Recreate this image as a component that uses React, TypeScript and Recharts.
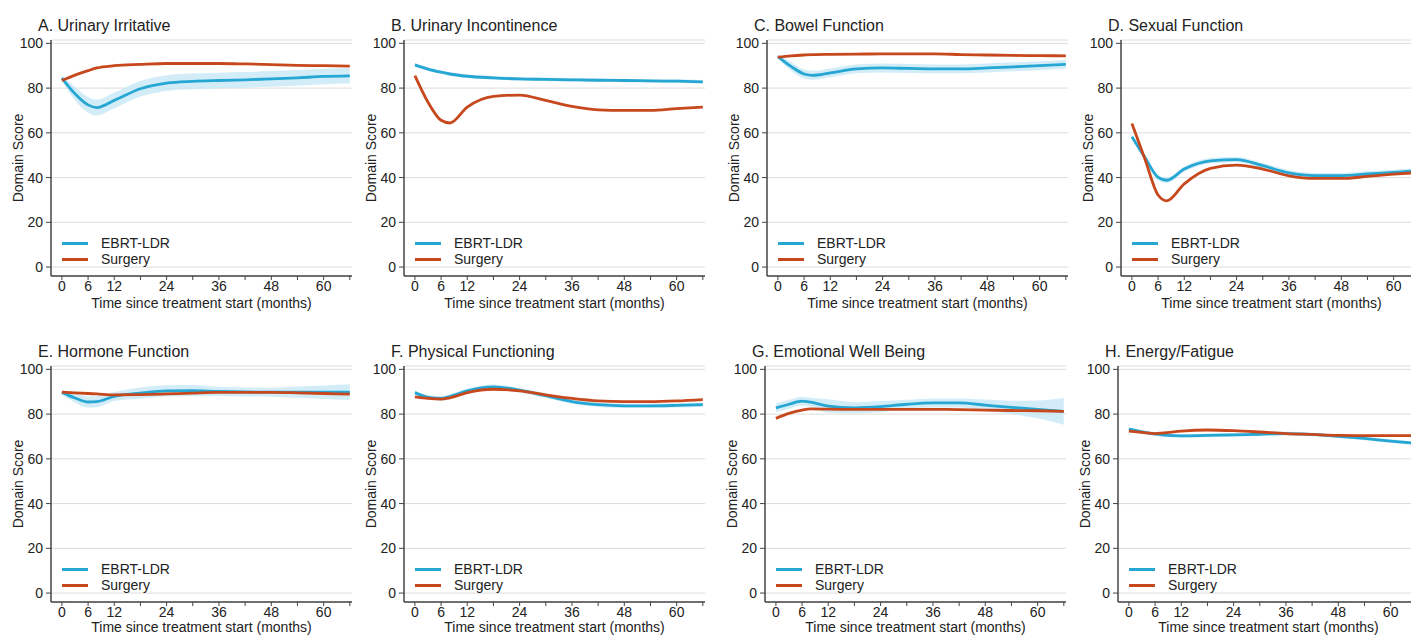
import { ComposedChart, Line, Area, XAxis, YAxis, CartesianGrid } from 'recharts'

const months = [0, 3, 6, 8, 12, 18, 24, 30, 36, 42, 48, 54, 60, 66]
const xTicks = [0, 6, 12, 18, 24, 30, 36, 42, 48, 54, 60, 66]
const labelledTicks = [0, 6, 12, 24, 36, 48, 60]
const yTicks = [0, 20, 40, 60, 80, 100]

const titles = [
  'A. Urinary Irritative',
  'B. Urinary Incontinence',
  'C. Bowel Function',
  'D. Sexual Function',
  'E. Hormone Function',
  'F. Physical Functioning',
  'G. Emotional Well Being',
  'H. Energy/Fatigue',
]

const aEbrt = [84.5, 77.5, 72.5, 71.3, 74.5, 79.7, 82.2, 83, 83.4, 83.7, 84.1, 84.6, 85.2, 85.5]
const aLow = [83.5, 74.5, 69, 67.8, 71, 76.2, 78.7, 79.5, 79.9, 80.2, 80.6, 81.1, 81.7, 82]
const aHigh = [85.5, 80.5, 76, 74.8, 78, 83.2, 85.7, 86.5, 86.9, 87.2, 87.6, 88.1, 88.7, 89]
const aSurgery = [83.4, 85.8, 87.8, 89, 90, 90.6, 91, 91, 91, 90.8, 90.5, 90.2, 90, 89.8]

const bEbrt = [90.4, 88.5, 87.1, 86.3, 85.3, 84.6, 84.1, 83.9, 83.7, 83.5, 83.4, 83.2, 83.1, 82.8]
const bLow = [89.6, 87.7, 86.3, 85.5, 84.5, 83.8, 83.3, 83.1, 82.9, 82.7, 82.6, 82.4, 82.3, 82]
const bHigh = [91.2, 89.3, 87.9, 87.1, 86.1, 85.4, 84.9, 84.7, 84.5, 84.3, 84.2, 84, 83.9, 83.6]
const bSurgery = [85.6, 73.7, 65.6, 64.4, 71.5, 76.3, 76.9, 74.5, 71.8, 70.3, 70, 70, 70.8, 71.5]

const cEbrt = [94.1, 89.7, 86.3, 85.7, 86.8, 88.6, 89, 88.8, 88.6, 88.6, 89, 89.5, 90, 90.6]
const cLow = [93.3, 87.7, 84.3, 83.7, 84.8, 86.6, 87, 86.8, 86.6, 86.6, 87, 87.5, 88, 88.6]
const cHigh = [94.9, 91.7, 88.3, 87.7, 88.8, 90.6, 91, 90.8, 90.6, 90.6, 91, 91.5, 92, 92.6]
const cSurgery = [93.8, 94.4, 94.8, 95, 95.1, 95.2, 95.3, 95.3, 95.3, 95, 94.8, 94.6, 94.5, 94.4]

const dEbrt = [58.3, 49, 40.1, 38.8, 43.8, 47.5, 48, 45.3, 42.1, 40.9, 40.9, 41.6, 42.3, 43.1]
const dLow = [57.1, 47.8, 38.9, 37.6, 42.6, 46.3, 46.8, 44.1, 40.9, 39.7, 39.7, 40.4, 41.1, 41.9]
const dHigh = [59.5, 50.2, 41.3, 40, 45, 48.7, 49.2, 46.5, 43.3, 42.1, 42.1, 42.8, 43.5, 44.3]
const dSurgery = [64.2, 48.2, 32.2, 29.6, 37.2, 44.1, 45.6, 43.8, 40.8, 39.6, 39.6, 40.5, 41.5, 42.3]

const eEbrt = [89.7, 87.2, 85.4, 85.6, 87.9, 89.4, 90.4, 90.5, 90.1, 89.9, 89.8, 89.8, 89.8, 89.8]
const eLow = [88.7, 85.2, 82.9, 83.1, 85.9, 86.9, 87.9, 88, 88.1, 87.9, 87.8, 87.3, 86.8, 86.3]
const eHigh = [90.7, 89.2, 87.9, 88.1, 89.9, 91.9, 92.9, 93, 92.1, 91.9, 91.8, 92.3, 92.8, 93.3]
const eSurgery = [89.8, 89.5, 89.2, 89, 88.6, 88.7, 89, 89.4, 89.7, 89.7, 89.7, 89.5, 89.2, 88.9]

const fEbrt = [89.6, 87.5, 87, 87.8, 90.4, 92.2, 90.7, 88.2, 85.6, 84.2, 83.7, 83.7, 83.9, 84.2]
const fLow = [88.6, 86.5, 86, 86.8, 89.4, 91.2, 89.7, 87.2, 84.6, 83.2, 82.7, 82.7, 82.9, 83.2]
const fHigh = [90.6, 88.5, 88, 88.8, 91.4, 93.2, 91.7, 89.2, 86.6, 85.2, 84.7, 84.7, 84.9, 85.2]
const fSurgery = [87.7, 87, 86.7, 87.3, 89.6, 91.1, 90.4, 88.6, 87, 85.9, 85.6, 85.6, 85.9, 86.5]

const gEbrt = [82.8, 84.4, 85.8, 85.3, 83.6, 82.8, 83.3, 84.4, 85, 85, 84, 83, 82.1, 81.2]
const gLow = [80.8, 82.4, 83.8, 83.3, 80.6, 80.3, 80.8, 82.4, 83, 83, 81.5, 80, 78.1, 75.2]
const gHigh = [84.8, 86.4, 87.8, 87.3, 86.6, 85.3, 85.8, 86.4, 87, 87, 86.5, 86, 86.1, 87.2]
const gSurgery = [78.1, 80.3, 81.8, 82.3, 82.2, 82.1, 82.1, 82.1, 82.1, 82, 81.8, 81.6, 81.5, 81.2]

const hEbrt = [73.3, 72.1, 71.1, 70.6, 70.3, 70.5, 70.7, 71, 71.3, 70.9, 70.1, 69.1, 67.9, 66.9]
const hLow = [72.5, 71.3, 70.3, 69.8, 69.5, 69.7, 69.9, 70.2, 70.5, 70.1, 69.3, 68.3, 67.1, 66.1]
const hHigh = [74.1, 72.9, 71.9, 71.4, 71.1, 71.3, 71.5, 71.8, 72.1, 71.7, 70.9, 69.9, 68.7, 67.7]
const hSurgery = [72.4, 71.8, 71.3, 71.6, 72.4, 72.9, 72.6, 72, 71.3, 70.9, 70.5, 70.4, 70.4, 70.4]

const series = [
  [aEbrt, aLow, aHigh, aSurgery],
  [bEbrt, bLow, bHigh, bSurgery],
  [cEbrt, cLow, cHigh, cSurgery],
  [dEbrt, dLow, dHigh, dSurgery],
  [eEbrt, eLow, eHigh, eSurgery],
  [fEbrt, fLow, fHigh, fSurgery],
  [gEbrt, gLow, gHigh, gSurgery],
  [hEbrt, hLow, hHigh, hSurgery],
]

// where each small chart sits on the page
const lefts = [0, 353, 716, 1070, 0, 353, 714, 1067]
const tops = [0, 0, 0, 0, 326, 326, 326, 326]

const BLUE = '#25a6d3'
const RED = '#c7481d'
const AXIS = '#444'
const W = 355
const H = 318

function Panel({ idx }: { idx: number }) {
  const [ebrt, low, high, surgery] = series[idx]
  const data = months.map((m, i) => ({
    month: m,
    ebrt: ebrt[i],
    surgery: surgery[i],
    band: [low[i], high[i]],
  }))
  // bottom row sits right at the page edge, so lift its axis title a touch
  const titleOffset = tops[idx] > 0 ? 12 : 10

  return (
    <div style={{ position: 'absolute', left: lefts[idx], top: tops[idx], width: W, height: H }}>
      <ComposedChart width={W} height={H} data={data} margin={{ top: 40, right: 3, bottom: 0, left: 0 }}>
        <CartesianGrid vertical={false} stroke="#dcdcdc" />
        <XAxis
          dataKey="month"
          type="number"
          domain={[-2.5, 66.5]}
          ticks={xTicks}
          interval={0}
          height={42}
          tickSize={4}
          tickMargin={1}
          tickFormatter={(v: number) => (labelledTicks.includes(v) ? String(v) : '')}
          tick={{ fontSize: 14, fill: '#222' }}
          axisLine={{ stroke: AXIS, strokeWidth: 1.5 }}
          tickLine={{ stroke: AXIS }}
          label={{ value: 'Time since treatment start (months)', position: 'insideBottom', offset: titleOffset, fontSize: 14, fill: '#222' }}
        />
        <YAxis
          type="number"
          domain={[-4, 101.5]}
          ticks={yTicks}
          interval={0}
          width={51}
          tickSize={5}
          tickMargin={3}
          tick={{ fontSize: 14, fill: '#222' }}
          axisLine={{ stroke: AXIS, strokeWidth: 1.5 }}
          tickLine={{ stroke: AXIS }}
          label={{ value: 'Domain Score', angle: -90, position: 'insideLeft', offset: 18, fontSize: 14, fill: '#222', style: { textAnchor: 'middle' } }}
        />
        <Area dataKey="band" type="monotone" stroke="none" fill="#c4e7f6" fillOpacity={0.75} isAnimationActive={false} />
        <Line dataKey="ebrt" type="monotone" stroke={BLUE} strokeWidth={2.8} dot={false} isAnimationActive={false} />
        <Line dataKey="surgery" type="monotone" stroke={RED} strokeWidth={2.8} dot={false} isAnimationActive={false} />
      </ComposedChart>
      <div style={{ position: 'absolute', left: 38, top: 16, fontSize: 16, lineHeight: '19px', color: '#222', whiteSpace: 'nowrap' }}>
        {titles[idx]}
      </div>
      <div style={{ position: 'absolute', left: 62, top: 235, fontSize: 14, lineHeight: '16px', color: '#222' }}>
        {[['EBRT-LDR', BLUE], ['Surgery', RED]].map(([name, color]) => (
          <div key={name} style={{ display: 'flex', alignItems: 'center', height: 16 }}>
            <span style={{ display: 'inline-block', width: 26, height: 3, background: color, marginRight: 13 }} />
            <span>{name}</span>
          </div>
        ))}
      </div>
    </div>
  )
}

export default function App() {
  return (
    <div
      style={{
        position: 'absolute',
        left: 0,
        top: 0,
        width: 1411,
        height: 636,
        overflow: 'hidden',
        background: '#fff',
        fontFamily: '"Liberation Sans", Arial, sans-serif',
      }}
    >
      {titles.map((_, i) => (
        <Panel key={i} idx={i} />
      ))}
    </div>
  )
}
